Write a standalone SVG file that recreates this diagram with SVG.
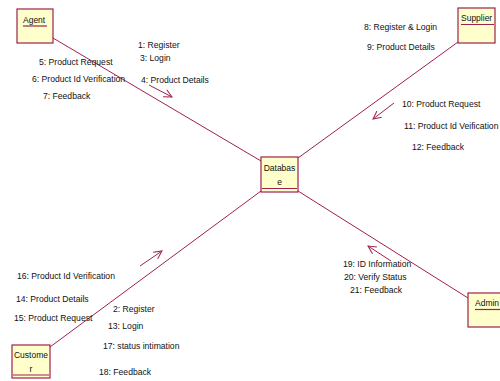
<svg xmlns="http://www.w3.org/2000/svg" width="500" height="381" viewBox="0 0 500 381">
<defs>
<style>
.box{fill:#FFFFCC;stroke:#A0204F;stroke-width:1.2}
.ul{stroke:#A0204F;stroke-width:1.2}
.ln{stroke:#A0204F;stroke-width:1;fill:none}
.ar{stroke:#A0204F;stroke-width:1;fill:none}
text{font-family:"Liberation Sans",Arial,sans-serif;font-size:8.6px;fill:#111}
.nt{font-size:8.5px}
</style>
<marker id="ah" markerWidth="10" markerHeight="10" refX="9" refY="5" orient="auto" markerUnits="userSpaceOnUse">
<path d="M1,1 L9,5 L1,9" fill="none" stroke="#A0204F" stroke-width="1"/>
</marker>
</defs>
<rect width="500" height="381" fill="#fff"/>
<g id="connectors">
<line class="ln" x1="53" y1="38" x2="261" y2="161"/>
<line class="ln" x1="458" y1="42" x2="298" y2="158"/>
<line class="ln" x1="50" y1="347" x2="261" y2="191"/>
<line class="ln" x1="298" y1="191" x2="468" y2="298"/>
<line class="ar" x1="149" y1="85" x2="172" y2="97" marker-end="url(#ah)"/>
<line class="ar" x1="394" y1="103" x2="373" y2="119" marker-end="url(#ah)"/>
<line class="ar" x1="140" y1="266" x2="162" y2="251" marker-end="url(#ah)"/>
<line class="ar" x1="391" y1="261" x2="368" y2="246" marker-end="url(#ah)"/>
</g>
<g id="labels">
<text x="138" y="48">1: Register</text>
<text x="140" y="61">3: Login</text>
<text x="39" y="65">5: Product Request</text>
<text x="32" y="82">6: Product Id Verification</text>
<text x="43" y="99">7: Feedback</text>
<text x="141" y="83">4: Product Details</text>
<text x="364" y="30">8: Register &amp; Login</text>
<text x="367" y="50">9: Product Details</text>
<text x="402" y="107">10: Product Request</text>
<text x="404" y="129">11: Product Id Veification</text>
<text x="412" y="150">12: Feedback</text>
<text x="17" y="279">16: Product Id Verification</text>
<text x="16" y="302">14: Product Details</text>
<text x="14" y="321">15: Product Request</text>
<text x="113" y="312">2: Register</text>
<text x="108" y="329">13: Login</text>
<text x="103" y="349">17: status intimation</text>
<text x="99" y="375">18: Feedback</text>
<text x="343" y="267">19: ID Information</text>
<text x="344" y="280">20: Verify Status</text>
<text x="350" y="293">21: Feedback</text>
</g>
<g id="agent">
<rect class="box" x="17" y="9" width="36" height="34"/>
<text class="nt" x="23" y="23">Agent</text>
<line class="ul" x1="23" y1="26" x2="47" y2="26"/>
</g>
<g id="supplier">
<rect class="box" x="458" y="8" width="37" height="35"/>
<text class="nt" x="461" y="21">Supplier</text>
<line class="ul" x1="461" y1="24.5" x2="494" y2="24.5"/>
</g>
<g id="database">
<rect class="box" x="261" y="157" width="37" height="35"/>
<text class="nt" x="279.5" y="171" text-anchor="middle">Databas</text>
<text class="nt" x="279.5" y="185" text-anchor="middle">e</text>
<line class="ul" x1="262" y1="188.5" x2="297" y2="188.5"/>
</g>
<g id="customer">
<rect class="box" x="12" y="345" width="38" height="33"/>
<text class="nt" x="31" y="358" text-anchor="middle">Custome</text>
<text class="nt" x="31" y="372" text-anchor="middle">r</text>
<line class="ul" x1="13" y1="375" x2="49" y2="375"/>
</g>
<g id="admin">
<rect class="box" x="468" y="293" width="36" height="34"/>
<text class="nt" x="475" y="306">Admin</text>
<line class="ul" x1="475" y1="309.5" x2="500" y2="309.5"/>
</g>
</svg>
